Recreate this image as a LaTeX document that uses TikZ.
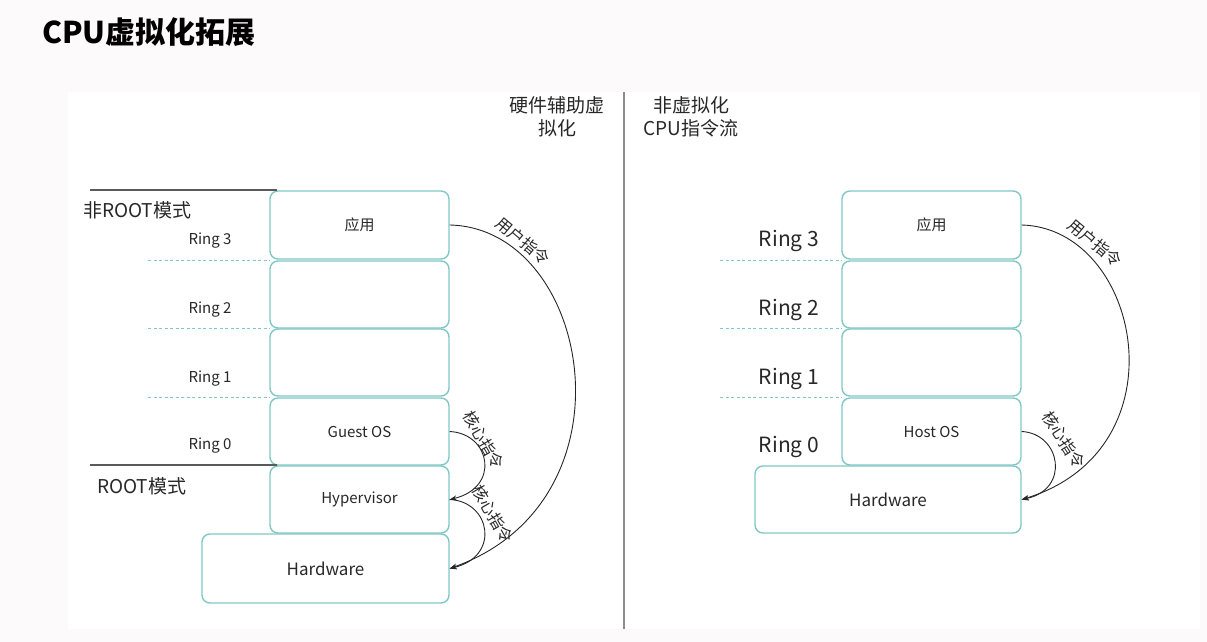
\documentclass[tikz,border=0pt]{standalone}
\usepackage{fontspec}
\setmainfont{Noto Sans CJK SC}
\usetikzlibrary{arrows.meta}
\definecolor{tealbox}{RGB}{128,200,198}
\definecolor{txt}{RGB}{40,40,40}
\definecolor{bgpage}{RGB}{253,250,251}
\definecolor{divgray}{RGB}{140,140,140}
\definecolor{linegray}{RGB}{90,90,90}
\newcommand{\fsz}[2]{\fontsize{#1}{#2}\selectfont}
\begin{document}
\begin{tikzpicture}[x=1pt,y=-1pt,
  box/.style={draw=tealbox, line width=1.4pt, rounded corners=8pt, minimum width=179pt,
    minimum height=67pt, inner sep=0pt, font=\fsz{15}{18}, text=txt},
  ringS/.style={font=\fsz{15}{18}, text=txt, inner sep=0pt},
  ringL/.style={font=\fsz{21}{25}, text=txt, inner sep=0pt},
  mode/.style={font=\fsz{19}{23}, text=txt, inner sep=0pt, anchor=west},
  head/.style={font=\fsz{19}{23}, text=txt, inner sep=0pt, align=center},
  arclab/.style={font=\fsz{16}{19}, text=txt, inner sep=0pt},
  flow/.style={draw=black!85, line width=0.9pt, -{Stealth[length=7pt,width=5pt]}},
  dotl/.style={draw=tealbox, line width=1pt, dash pattern=on 3pt off 2.5pt},
  sep/.style={draw=linegray, line width=1.3pt}]
\useasboundingbox[fill=bgpage] (0,0) rectangle (1207,642);
\fill[white] (68,92) rectangle (1200,629);
\draw[divgray, line width=2pt] (624,92) -- (624,629);

\node[anchor=west, font=\bfseries\fsz{30}{36}, inner sep=0pt] (title) at (42,32) {CPU虚拟化拓展};

% ---------- left ----------
\node[head] (hL) at (557,117) {硬件辅助虚\\拟化};

\node[box, minimum height=68pt] (la) at (359.5,225) {应用};
\node[box] (l2) at (359.5,294.5) {};
\node[box] (l1) at (359.5,362.5) {};
\node[box] (lg) at (359.5,431.5) {Guest OS};
\node[box] (lh) at (359.5,499.5) {Hypervisor};
\node[box, minimum width=247pt, minimum height=69pt, font=\fsz{17}{20}] (lw) at (325.5,568.5) {Hardware};

\coordinate (s1a) at (90,190);
\coordinate (s1b) at (277,190);
\coordinate (s2a) at (90,465);
\coordinate (s2b) at (277,465);
\draw[sep] (s1a) -- (s1b);
\draw[sep] (s2a) -- (s2b);
\node[mode] (nroot) at (83,210) {非ROOT模式};
\node[mode] (root) at (97,486) {ROOT模式};

\node[ringS] (lr3) at (210,241) {Ring 3};
\node[ringS] (lr2) at (210,310) {Ring 2};
\node[ringS] (lr1) at (210,379) {Ring 1};
\node[ringS] (lr0) at (210,446) {Ring 0};

\coordinate (d1) at (148,260);
\coordinate (d2) at (148,328);
\coordinate (d3) at (148,397);
\draw[dotl] (d1) -- (270,260);
\draw[dotl] (d2) -- (270,328);
\draw[dotl] (d3) -- (270,397);

\draw[flow] (la.east) .. controls +(141,3) and +(191,-68) .. (lw.east);
\draw[flow] (lg.east) .. controls +(41,2) and +(51,-12) .. (lh.east);
\draw[flow] (lh.east) .. controls +(41,2) and +(51,-12) .. (lw.east);
\node[arclab, rotate=-40] (luser) at (523,241) {用户指令};
\node[arclab, rotate=-60] (lk1) at (484,440) {核心指令};
\node[arclab, rotate=-60] (lk2) at (493,514) {核心指令};

% ---------- right ----------
\node[head] (hR) at (691,117) {非虚拟化\\CPU指令流};

\node[box, minimum height=68pt] (ra) at (931.5,225) {应用};
\node[box] (r2) at (931.5,294.5) {};
\node[box] (r1) at (931.5,362.5) {};
\node[box] (rg) at (931.5,431.5) {Host OS};
\node[box, minimum width=266pt, font=\fsz{17}{20}] (rw) at (888,499.5) {Hardware};

\node[ringL] (rr3) at (789,241) {Ring 3};
\node[ringL] (rr2) at (789,310) {Ring 2};
\node[ringL] (rr1) at (789,379) {Ring 1};
\node[ringL] (rr0) at (789,447) {Ring 0};

\coordinate (e1) at (720,260);
\coordinate (e2) at (720,328);
\coordinate (e3) at (720,397);
\draw[dotl] (e1) -- (842,260);
\draw[dotl] (e2) -- (842,328);
\draw[dotl] (e3) -- (842,397);

\draw[flow] (ra.east) .. controls +(119,3) and +(164,-50) .. (rw.east);
\draw[flow] (rg.east) .. controls +(39,2) and +(49,-10) .. (rw.east);
\node[arclab, rotate=-40] (ruser) at (1095,243) {用户指令};
\node[arclab, rotate=-57] (rk) at (1064,440) {核心指令};
\end{tikzpicture}
\end{document}
